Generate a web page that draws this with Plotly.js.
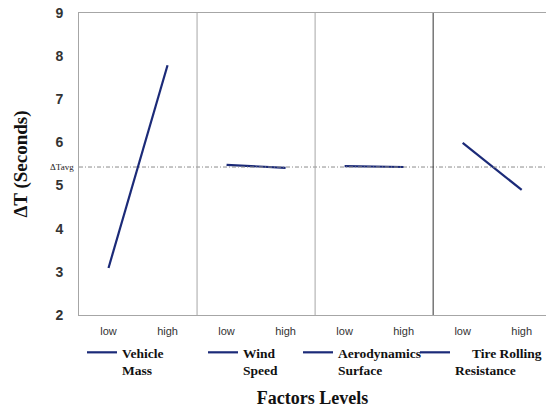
<!DOCTYPE html>
<html>
<head>
<meta charset="utf-8">
<script src="https://cdn.plot.ly/plotly-3.0.1.min.js"></script>
<style>html,body{margin:0;padding:0;background:#fff;}#chart{width:547px;height:416px;}</style>
</head>
<body>
<div id="chart"></div>
<script>
const factors = ["Vehicle<br>Mass", "Wind<br>Speed", "Aerodynamics<br>Surface", "\u00a0\u00a0\u00a0\u00a0\u00a0Tire Rolling<br>Resistance"];
const levels = ["low", "high"];
const lowValues = [3.09, 5.48, 5.45, 5.99];
const highValues = [7.79, 5.41, 5.43, 4.90];
const avgValue = 5.43;
const avgLabel = "\u0394Tavg";

const lineColor = "#1b2a78";
const legendX = [0.0064, 0.265, 0.468, 0.720];

const traces = [];
const layout = {
  width: 547, height: 416,
  margin: {l: 79, r: 0, t: 13, b: 101},
  paper_bgcolor: "#fff", plot_bgcolor: "#fff",
  showlegend: true,
  xaxis: {
    range: [0, 3.956], showgrid: false, zeroline: false,
    showline: true, mirror: true, linecolor: "#a6a6a6", linewidth: 1,
    tickvals: [], ticktext: [], ticks: "",
    tickfont: {family: "Liberation Sans, Arial", size: 11, color: "#333"},
    ticklabelstandoff: 6,
    title: {text: "Factors Levels", font: {family: "Liberation Serif, Times New Roman", size: 18, color: "#111", weight: "bold"}, standoff: 55}
  },
  yaxis: {
    range: [2, 9], dtick: 1, showgrid: false, zeroline: false,
    showline: true, linecolor: "#a6a6a6", linewidth: 1, ticks: "",
    tickfont: {family: "Liberation Sans, Arial", size: 14, color: "#333", weight: "bold"},
    ticklabelstandoff: 12,
    title: {text: "\u0394T (Seconds)", font: {family: "Liberation Serif, Times New Roman", size: 19, color: "#111", weight: "bold"}, standoff: 22}
  },
  shapes: [],
  annotations: [{
    xref: "paper", yref: "y", x: 0, y: avgValue, xanchor: "right", yanchor: "middle",
    xshift: -3, text: avgLabel, showarrow: false,
    font: {family: "Liberation Serif, Times New Roman", size: 9, color: "#222"}
  }]
};

factors.forEach((name, i) => {
  const xs = [i + 0.25, i + 0.75];
  layout.xaxis.tickvals.push(...xs);
  layout.xaxis.ticktext.push(...levels);
  const lg = i === 0 ? "legend" : "legend" + (i + 1);
  traces.push({
    type: "scatter", mode: "lines", x: xs, y: [lowValues[i], highValues[i]],
    name: name, legend: lg,
    line: {color: lineColor, width: 2.2}
  });
  layout[lg] = {
    orientation: "h", x: legendX[i], y: -0.073, xanchor: "left", yanchor: "top",
    valign: "top", bgcolor: "rgba(0,0,0,0)",
    font: {family: "Liberation Serif, Times New Roman", size: 13.5, color: "#111", weight: "bold"}
  };
  if (i > 0) {
    layout.shapes.push({
      type: "line", xref: "x", yref: "paper", x0: i, x1: i, y0: 0, y1: 1,
      line: {color: i === 3 ? "#333" : "#a6a6a6", width: 1}
    });
  }
});

traces.push({
  type: "scatter", mode: "lines", x: [0, 3.956], y: [avgValue, avgValue],
  showlegend: false, hoverinfo: "skip",
  line: {color: "#8c8c8c", width: 1, dash: "4px,2px,1px,2px"}
});

Plotly.newPlot("chart", traces, layout, {displayModeBar: false, staticPlot: true});
</script>
</body>
</html>
